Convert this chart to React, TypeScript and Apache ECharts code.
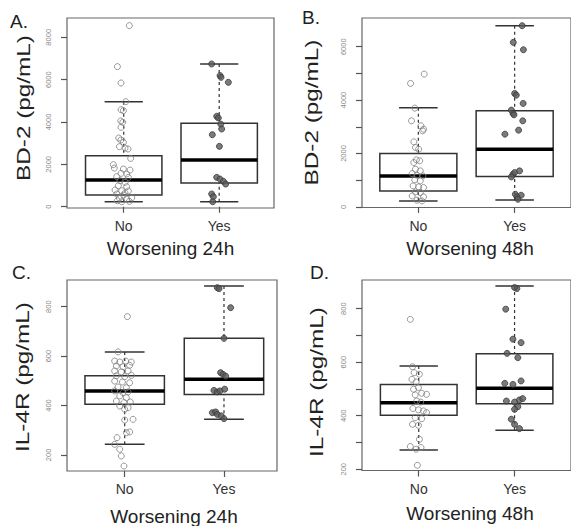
import React, { useEffect, useRef } from 'react';
import * as echarts from 'echarts';

const FONT = '"Liberation Sans", Arial, Helvetica, sans-serif';

const groups = ['No', 'Yes'];
const panelLetters = ['A.', 'B.', 'C.', 'D.'];
const yTitles = ['BD-2 (pg/mL)', 'BD-2 (pg/mL)', 'IL-4R (pg/mL)', 'IL-4R (pg/mL)'];
const xTitles = ['Worsening 24h', 'Worsening 48h', 'Worsening 24h', 'Worsening 48h'];

// box statistics: [lower whisker, Q1, median, Q3, upper whisker] for No, Yes
const boxA = [[236, 551, 1260, 2410, 4960], [236, 1118, 2205, 3940, 6740]];
const boxB = [[225, 600, 1162, 2000, 3712], [262, 1137, 2162, 3600, 6787]];
const boxC = [[243, 405, 459, 520, 617], [344, 445, 506, 672, 884]];
const boxD = [[272, 402, 449, 517, 586], [346, 445, 503, 632, 885]];

// jittered points [x position, value]
const ptsANo = [
  [1.059, 8550], [0.934, 6615], [0.972, 5843], [1.021, 4960], [0.972, 4580], [0.997, 4535],
  [0.969, 4050], [0.99, 3985], [0.972, 3750], [0.948, 3245], [0.969, 3150], [0.997, 3040],
  [0.955, 2835], [1.014, 2770], [1.045, 2725], [1.073, 2280], [0.892, 1985], [0.902, 1825],
  [0.997, 1780], [1.066, 1730], [0.972, 1575], [1.031, 1545], [0.927, 1420], [1.049, 1385],
  [0.962, 1230], [1.014, 1150], [0.944, 990], [1.031, 945], [0.909, 790], [0.979, 756],
  [1.049, 740], [0.927, 600], [0.997, 550], [1.014, 650], [0.955, 410], [1.031, 360],
  [1.084, 420], [0.979, 236], [0.934, 283], [1.059, 250],
];
const ptsAYes = [
  [1.921, 6740], [2.009, 6190], [2.019, 6110], [2.096, 5875], [1.974, 4270], [1.991, 4190],
  [2.016, 3900], [2.026, 3670], [1.928, 3400], [2.002, 2850], [1.974, 1386], [2.009, 1307],
  [2.044, 1197], [2.068, 1071], [1.921, 600], [1.939, 472], [1.932, 236],
];
const ptsBNo = [
  [1.061, 4975], [0.919, 4625], [0.963, 3700], [0.929, 3225], [1.027, 3037], [1.054, 2912],
  [1.044, 2850], [0.953, 2437], [0.97, 2225], [1.003, 2162], [0.98, 1762], [1.014, 1725],
  [0.953, 1662], [0.97, 1412], [1.02, 1350], [0.936, 1250], [0.986, 1187], [1.047, 1162],
  [0.963, 1012], [1.02, 975], [0.946, 787], [1.003, 750], [1.054, 725], [0.97, 562],
  [1.02, 537], [0.936, 412], [1.054, 375], [0.986, 250], [1.037, 225],
];
const ptsBYes = [
  [2.078, 6787], [1.986, 6162], [2.091, 5887], [2.0, 4250], [2.017, 4187], [2.088, 3875],
  [1.966, 3625], [1.983, 3500], [1.993, 3450], [2.084, 3225], [1.899, 2725], [2.041, 2875],
  [1.983, 1225], [2.0, 1287], [1.966, 1125], [2.051, 1350], [2.007, 475], [2.068, 437],
  [2.024, 375], [2.034, 287],
];
const ptsCNo = [
  [1.027, 760], [0.993, 155], [0.933, 617], [0.899, 580], [0.95, 576], [1.01, 580],
  [1.067, 576], [0.916, 560], [0.983, 557], [1.05, 563], [0.899, 540], [0.966, 536],
  [1.034, 540], [0.916, 520], [1.0, 517], [1.067, 522], [0.899, 499], [0.977, 495],
  [1.05, 492], [0.933, 475], [1.017, 472], [0.899, 459], [0.983, 452], [1.034, 455],
  [0.95, 439], [1.017, 432], [0.916, 418], [0.993, 412], [1.057, 414], [0.95, 398],
  [1.034, 391], [1.0, 385], [1.084, 344], [1.0, 341], [1.05, 293], [1.017, 290],
  [0.923, 270], [0.899, 243], [0.95, 223], [0.966, 196],
];
const ptsCYes = [
  [1.933, 877], [1.95, 873], [2.067, 796], [2.0, 672], [1.966, 533], [1.99, 526],
  [2.017, 519], [1.899, 461], [1.933, 455], [1.96, 459], [2.007, 466], [1.883, 371],
  [1.916, 374], [1.933, 364], [1.973, 358], [2.0, 347],
];
const ptsDNo = [
  [0.912, 760], [0.986, 215], [0.935, 583], [0.952, 561], [1.007, 555], [0.929, 536],
  [0.973, 526], [0.997, 505], [0.946, 499], [1.031, 484], [1.082, 480], [0.963, 478],
  [0.98, 455], [1.02, 451], [0.939, 427], [0.997, 422], [1.048, 418], [1.082, 412],
  [0.963, 393], [1.031, 389], [0.935, 368], [0.997, 364], [1.007, 312], [1.024, 281],
  [0.912, 285], [0.973, 275],
];
const ptsDYes = [
  [2.024, 875], [2.0, 879], [1.908, 798], [1.983, 686], [2.068, 673], [1.922, 633],
  [2.034, 617], [1.898, 521], [1.983, 517], [2.068, 530], [1.915, 455], [2.0, 451],
  [2.051, 459], [2.085, 464], [2.034, 434], [2.0, 424], [1.966, 387], [2.0, 368],
  [2.051, 352],
];

// y axis ticks and labels
const yTicksA = [0, 2000, 4000, 6000, 8000];
const yLabelsA = [0, 2000, 4000, 6000, 8000];
const yTicksB = [0, 1000, 2000, 3000, 4000, 5000, 6000];
const yLabelsB = [0, 2000, 4000, 6000];
const yTicksC = [200, 400, 600, 800];
const yLabelsC = [200, 400, 600, 800];
const yTicksD = [200, 300, 400, 500, 600, 700, 800];
const yLabelsD = [200, 400, 600, 800];

const panels = [
  { box: boxA, no: ptsANo, yes: ptsAYes, yTicks: yTicksA, yLabels: yLabelsA, yMin: -61, yMax: 8911, xMin: 0.406, xMax: 2.574,
    grid: { left: 67, top: 18, width: 207, height: 190 } },
  { box: boxB, no: ptsBNo, yes: ptsBYes, yTicks: yTicksB, yLabels: yLabelsB, yMin: -22, yMax: 7076, xMin: 0.415, xMax: 2.585,
    grid: { left: 362, top: 18, width: 214, height: 189.5 } },
  { box: boxC, no: ptsCNo, yes: ptsCYes, yTicks: yTicksC, yLabels: yLabelsC, yMin: 135, yMax: 908, xMin: 0.419, xMax: 2.534,
    grid: { left: 67, top: 280, width: 210, height: 191 } },
  { box: boxD, no: ptsDNo, yes: ptsDYes, yTicks: yTicksD, yLabels: yLabelsD, yMin: 195.5, yMax: 907, xMin: 0.408, xMax: 2.589,
    grid: { left: 362, top: 280, width: 214, height: 190.5 } },
];

const letterPos = [[10, 21], [302, 17.5], [12, 272], [310, 272]];
const yTitlePos = [[23, 108], [311, 112.5], [22.5, 377], [316, 382]];
const xTitlePos = [[170.5, 248.6], [470, 248], [174, 516.6], [470, 513.5]];

const renderBox = (params: any, api: any) => {
  const x = api.value(0);
  const lo = api.value(1);
  const q1 = api.value(2);
  const med = api.value(3);
  const q3 = api.value(4);
  const hi = api.value(5);
  const hw = 0.4;
  const cw = 0.2;
  const c = (a: number, b: number) => api.coord([a, b]);
  const tl = c(x - hw, q3);
  const br = c(x + hw, q1);
  const m1 = c(x - hw, med);
  const m2 = c(x + hw, med);
  const top = c(x, hi);
  const q3p = c(x, q3);
  const q1p = c(x, q1);
  const bot = c(x, lo);
  const cl = c(x - cw, hi)[0];
  const cr = c(x + cw, hi)[0];
  const stroke = '#333';
  const dashed = { stroke, lineWidth: 1.2, lineDash: [3, 3] };
  const solid = { stroke, lineWidth: 1.5 };
  return {
    type: 'group',
    children: [
      { type: 'line', shape: { x1: top[0], y1: top[1], x2: q3p[0], y2: q3p[1] }, style: dashed },
      { type: 'line', shape: { x1: bot[0], y1: bot[1], x2: q1p[0], y2: q1p[1] }, style: dashed },
      { type: 'line', shape: { x1: cl, y1: top[1], x2: cr, y2: top[1] }, style: solid },
      { type: 'line', shape: { x1: cl, y1: bot[1], x2: cr, y2: bot[1] }, style: solid },
      { type: 'rect', shape: { x: tl[0], y: tl[1], width: br[0] - tl[0], height: br[1] - tl[1] },
        style: { fill: '#fff', stroke, lineWidth: 1.5 } },
      { type: 'line', shape: { x1: m1[0], y1: m1[1], x2: m2[0], y2: m2[1] }, style: { stroke: '#000', lineWidth: 3.5 } },
    ],
  };
};

export default function App() {
  const ref = useRef<HTMLDivElement>(null);
  useEffect(() => {
    if (!ref.current) return;
    const chart = echarts.init(ref.current, null, { renderer: 'svg' });
    const series: any[] = [];
    panels.forEach((p, i) => {
      series.push({
        type: 'custom',
        xAxisIndex: i,
        yAxisIndex: i,
        renderItem: renderBox,
        encode: { x: 0, y: [1, 2, 3, 4, 5] },
        data: p.box.map((b, k) => [k + 1, ...b]),
        z: 2,
        silent: true,
      });
      series.push({
        type: 'scatter',
        xAxisIndex: i,
        yAxisIndex: i,
        data: p.no,
        symbol: 'circle',
        symbolSize: 6,
        itemStyle: { color: 'rgba(255,255,255,0)', borderColor: '#808080', borderWidth: 1 },
        z: 3,
        silent: true,
      });
      series.push({
        type: 'scatter',
        xAxisIndex: i,
        yAxisIndex: i,
        data: p.yes,
        symbol: 'circle',
        symbolSize: 6,
        itemStyle: { color: '#5a5a5a', borderColor: '#3a3a3a', borderWidth: 1 },
        z: 3,
        silent: true,
      });
    });

    const graphic: any[] = [];
    panelLetters.forEach((t, i) => {
      graphic.push({
        type: 'text', x: letterPos[i][0], y: letterPos[i][1],
        style: { text: t, font: `19px ${FONT}`, fill: '#222', align: 'left', textAlign: 'left', verticalAlign: 'middle', textVerticalAlign: 'middle' },
      });
    });
    yTitles.forEach((t, i) => {
      graphic.push({
        type: 'text', x: yTitlePos[i][0], y: yTitlePos[i][1], rotation: Math.PI / 2, scaleX: 1.28,
        style: { text: t, font: `19px ${FONT}`, fill: '#222', align: 'center', textAlign: 'center', verticalAlign: 'middle', textVerticalAlign: 'middle' },
      });
    });
    xTitles.forEach((t, i) => {
      graphic.push({
        type: 'text', x: xTitlePos[i][0], y: xTitlePos[i][1],
        style: { text: t, font: `19px ${FONT}`, fill: '#222', align: 'center', textAlign: 'center', verticalAlign: 'middle', textVerticalAlign: 'middle' },
      });
    });

    chart.setOption({
      animation: false,
      backgroundColor: '#fff',
      grid: panels.map((p) => ({ ...p.grid, show: true, borderColor: '#666', borderWidth: 1.2, backgroundColor: 'rgba(0,0,0,0)' })),
      xAxis: panels.map((p, i) => ({
        type: 'value',
        gridIndex: i,
        min: p.xMin,
        max: p.xMax,
        axisLine: { show: false },
        splitLine: { show: false },
        axisTick: { show: true, length: 6, customValues: [1, 2], lineStyle: { color: '#555', width: 1.2 } },
        axisLabel: {
          customValues: [1, 2],
          formatter: (v: number) => groups[Math.round(v) - 1] ?? '',
          fontSize: 14, color: '#333', margin: 11, fontFamily: FONT,
        },
      })),
      yAxis: panels.map((p, i) => ({
        type: 'value',
        gridIndex: i,
        min: p.yMin,
        max: p.yMax,
        axisLine: { show: false },
        splitLine: { show: false },
        axisTick: { show: true, length: 6, customValues: p.yTicks, lineStyle: { color: '#555', width: 1.2 } },
        axisLabel: {
          customValues: p.yLabels,
          formatter: (v: number) => String(v),
          rotate: 90,
          fontSize: 7.5, color: '#888', margin: 15, fontFamily: FONT,
        },
      })),
      series,
      graphic,
    });
    return () => chart.dispose();
  }, []);
  return <div ref={ref} style={{ position: 'absolute', left: 0, top: 0, width: 571, height: 526 }} />;
}
